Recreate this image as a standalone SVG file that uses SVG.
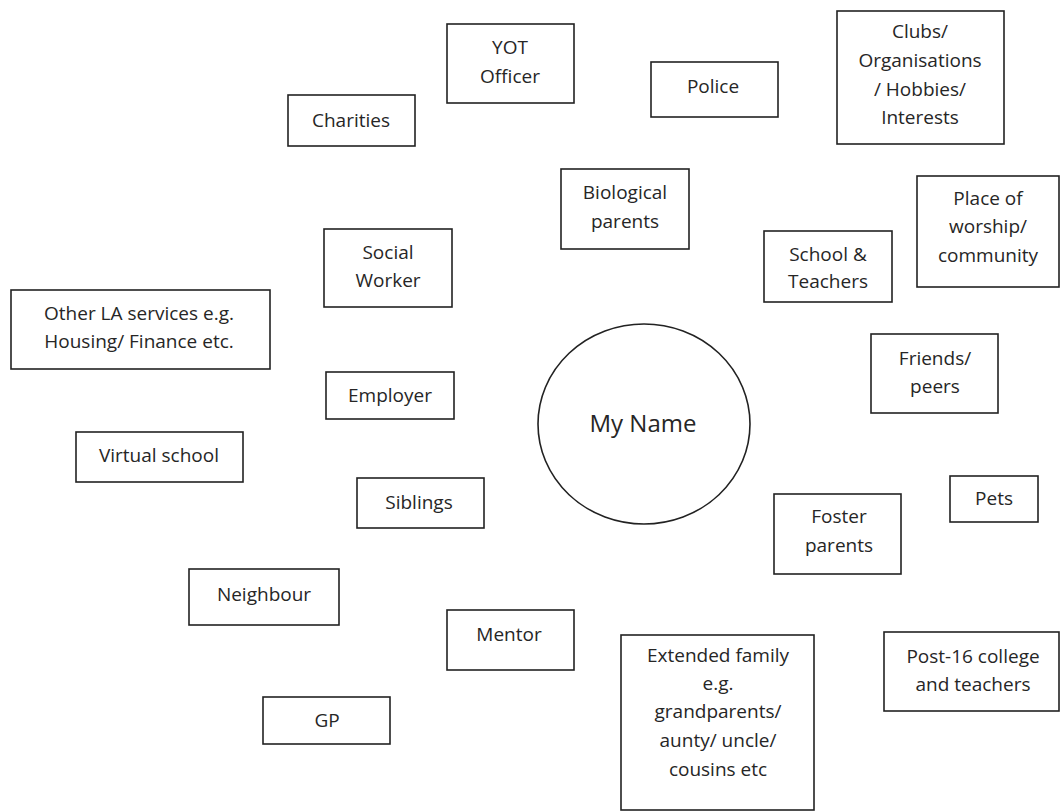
<svg xmlns="http://www.w3.org/2000/svg" width="1060" height="812" viewBox="0 0 1060 812">
<style>
.b{fill:#fff;stroke:#222;stroke-width:1.6}
text{font-family:"Open Sans","Noto Sans","Liberation Sans",sans-serif;font-size:19px;fill:#262626;text-anchor:middle}
.big{font-size:24px}
</style>
<rect width="1060" height="812" fill="#fff"/>
<g id="connectors"></g>
<g id="charities"><rect class="b" x="288" y="95" width="127" height="51"/><text x="351" y="127">Charities</text></g>
<g id="yot"><rect class="b" x="447" y="24" width="127" height="79"/><text x="510" y="54">YOT</text><text x="510" y="83">Officer</text></g>
<g id="police"><rect class="b" x="651" y="62" width="127" height="55"/><text x="713" y="93">Police</text></g>
<g id="clubs"><rect class="b" x="837" y="11" width="167" height="133"/><text x="920" y="38">Clubs/</text><text x="920" y="67">Organisations</text><text x="920" y="96">/ Hobbies/</text><text x="920" y="124">Interests</text></g>
<g id="worship"><rect class="b" x="917" y="176" width="142" height="111"/><text x="988" y="205">Place of</text><text x="988" y="233">worship/</text><text x="988" y="262">community</text></g>
<g id="school"><rect class="b" x="764" y="231" width="128" height="71"/><text x="828" y="261">School &amp;</text><text x="828" y="288">Teachers</text></g>
<g id="biological"><rect class="b" x="561" y="169" width="128" height="80"/><text x="625" y="199">Biological</text><text x="625" y="228">parents</text></g>
<g id="social"><rect class="b" x="324" y="229" width="128" height="78"/><text x="388" y="259">Social</text><text x="388" y="287">Worker</text></g>
<g id="otherla"><rect class="b" x="11" y="290" width="259" height="79"/><text x="139" y="320">Other LA services e.g.</text><text x="139" y="348">Housing/ Finance etc.</text></g>
<g id="employer"><rect class="b" x="326" y="372" width="128" height="47"/><text x="390" y="402">Employer</text></g>
<g id="virtual"><rect class="b" x="76" y="432" width="167" height="50"/><text x="159" y="462">Virtual school</text></g>
<g id="myname"><ellipse class="b" cx="644" cy="424" rx="106" ry="100"/><text class="big" x="643" y="432">My Name</text></g>
<g id="friends"><rect class="b" x="871" y="334" width="127" height="79"/><text x="935" y="365">Friends/</text><text x="935" y="393">peers</text></g>
<g id="pets"><rect class="b" x="950" y="476" width="88" height="46"/><text x="994" y="505">Pets</text></g>
<g id="foster"><rect class="b" x="774" y="494" width="127" height="80"/><text x="839" y="523">Foster</text><text x="839" y="552">parents</text></g>
<g id="siblings"><rect class="b" x="357" y="478" width="127" height="50"/><text x="419" y="509">Siblings</text></g>
<g id="neighbour"><rect class="b" x="189" y="569" width="150" height="56"/><text x="264" y="601">Neighbour</text></g>
<g id="mentor"><rect class="b" x="447" y="610" width="127" height="60"/><text x="509" y="641">Mentor</text></g>
<g id="gp"><rect class="b" x="263" y="697" width="127" height="47"/><text x="327" y="727">GP</text></g>
<g id="extended"><rect class="b" x="621" y="635" width="193" height="175"/><text x="718" y="662">Extended family</text><text x="718" y="690">e.g.</text><text x="718" y="718">grandparents/</text><text x="718" y="747">aunty/ uncle/</text><text x="718" y="776">cousins etc</text></g>
<g id="post16"><rect class="b" x="884" y="632" width="175" height="79"/><text x="973" y="663">Post-16 college</text><text x="973" y="691">and teachers</text></g>
</svg>
